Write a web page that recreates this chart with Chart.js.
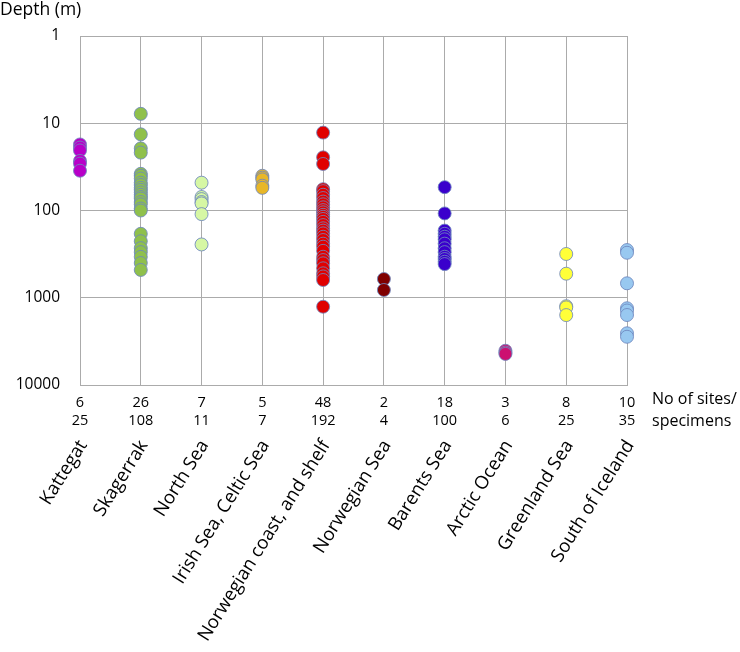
<!DOCTYPE html>
<html>
<head>
<meta charset="utf-8">
<script src="https://cdn.jsdelivr.net/npm/chart.js@4"></script>
<style>
html,body{margin:0;padding:0;background:#fff;}
#wrap{width:740px;height:652px;position:relative;}
</style>
</head>
<body>
<div id="wrap"><canvas id="c"></canvas></div>
<script>
const categories = ["Kattegat","Skagerrak","North Sea","Irish Sea, Celtic Sea","Norwegian coast, and shelf","Norwegian Sea","Barents Sea","Arctic Ocean","Greenland Sea","South of Iceland"];
const sites = [6,26,7,5,48,2,18,3,8,10];
const specimens = [25,108,11,7,192,4,100,6,25,35];
const yTickValues = [1,10,100,1000,10000];

const depthKattegat = [17.5,19,20.5,27,29,35];
const depthSkagerrak = [7.8,13.4,19.4,21.7,38,40,43,48,51,55,58,62,66,70,73,80,85,95,100,185,225,270,300,340,400,480];
const depthNorthSea = [48,70,74,80,83,110,245];
const depthIrish = [40,42,44,52,55];
const depthNorwCoast = [12.8,24.6,29.3,57,60,66,72,79,85,92,99,105,112,118,125,135,147,160,170,183,200,218,240,260,290,339,370,403,460,525,570,626,1267];
const depthNorwSea = [610,815];
const depthBarents = [54,108,170,185,200,214,240,271,300,339,360,387,411];
const depthArctic = [4050,4250,4400];
const depthGreenland = [315,530,1250,1290,1580];
const depthIceland = [284,305,683,1320,1400,1577,2555,2800];

const depths = [depthKattegat,depthSkagerrak,depthNorthSea,depthIrish,depthNorwCoast,depthNorwSea,depthBarents,depthArctic,depthGreenland,depthIceland];
const colors = ["#B800C8","#8FC04C","#D6F7A4","#E8B728","#E00000","#800000","#3A00CC","#CC1070","#FFFF38","#98C8F0"];

const FONT = "'Open Sans', sans-serif";

const datasets = depths.map((arr, i) => ({
  label: categories[i],
  data: arr.map(d => ({x: i + 1, y: d})),
  backgroundColor: colors[i],
  borderColor: 'rgba(110,135,190,0.85)',
  borderWidth: 1,
  pointRadius: 6.5,
  pointHoverRadius: 6.5,
  clip: false
}));

const textPlugin = {
  id: 'textPlugin',
  afterDraw(chart) {
    const ctx = chart.ctx;
    const xs = chart.scales.x;
    ctx.save();
    ctx.fillStyle = '#000';
    ctx.font = "14.5px " + FONT;
    ctx.textAlign = 'center';
    ctx.textBaseline = 'middle';
    categories.forEach((c, i) => {
      const px = xs.getPixelForValue(i + 1);
      ctx.fillText(String(sites[i]), px, 403);
      ctx.fillText(String(specimens[i]), px, 421);
    });
    ctx.font = "16px " + FONT;
    ctx.textAlign = 'left';
    ctx.fillText("No of sites/", 652, 399);
    ctx.fillText("specimens", 652, 421);
    ctx.font = "17.5px " + FONT;
    ctx.fillText("Depth (m)", 0, 10);
    ctx.font = "18.5px " + FONT;
    ctx.textAlign = 'right';
    ctx.textBaseline = 'middle';
    categories.forEach((c, i) => {
      const px = xs.getPixelForValue(i + 1);
      ctx.save();
      ctx.translate(px + 3, 442);
      ctx.rotate(-58 * Math.PI / 180);
      ctx.fillText(c, 0, 0);
      ctx.restore();
    });
    ctx.restore();
  }
};

new Chart(document.getElementById('c'), {
  type: 'scatter',
  data: { datasets },
  options: {
    responsive: true,
    maintainAspectRatio: false,
    animation: false,
    layout: { padding: { left: 0, top: 36, right: 113, bottom: 267 } },
    plugins: { legend: { display: false }, tooltip: { enabled: false } },
    scales: {
      x: {
        type: 'linear',
        min: 1, max: 10,
        ticks: { display: false, stepSize: 1 },
        grid: { color: '#ABABAB', lineWidth: 1, drawTicks: false },
        border: { display: true, color: '#ABABAB' },
        afterFit(s) { s.height = 0; }
      },
      y: {
        type: 'logarithmic',
        min: 1, max: 10000,
        reverse: true,
        afterBuildTicks(s) { s.ticks = yTickValues.map(v => ({ value: v, major: true })); },
        ticks: {
          color: '#000',
          font: { family: FONT, size: 15.5 },
          padding: 20,
          callback: v => String(v)
        },
        grid: { color: '#ABABAB', lineWidth: 1, drawTicks: false },
        border: { display: true, color: '#ABABAB' },
        afterFit(s) { s.width = 80; }
      }
    }
  },
  plugins: [textPlugin]
});
</script>
</body>
</html>
